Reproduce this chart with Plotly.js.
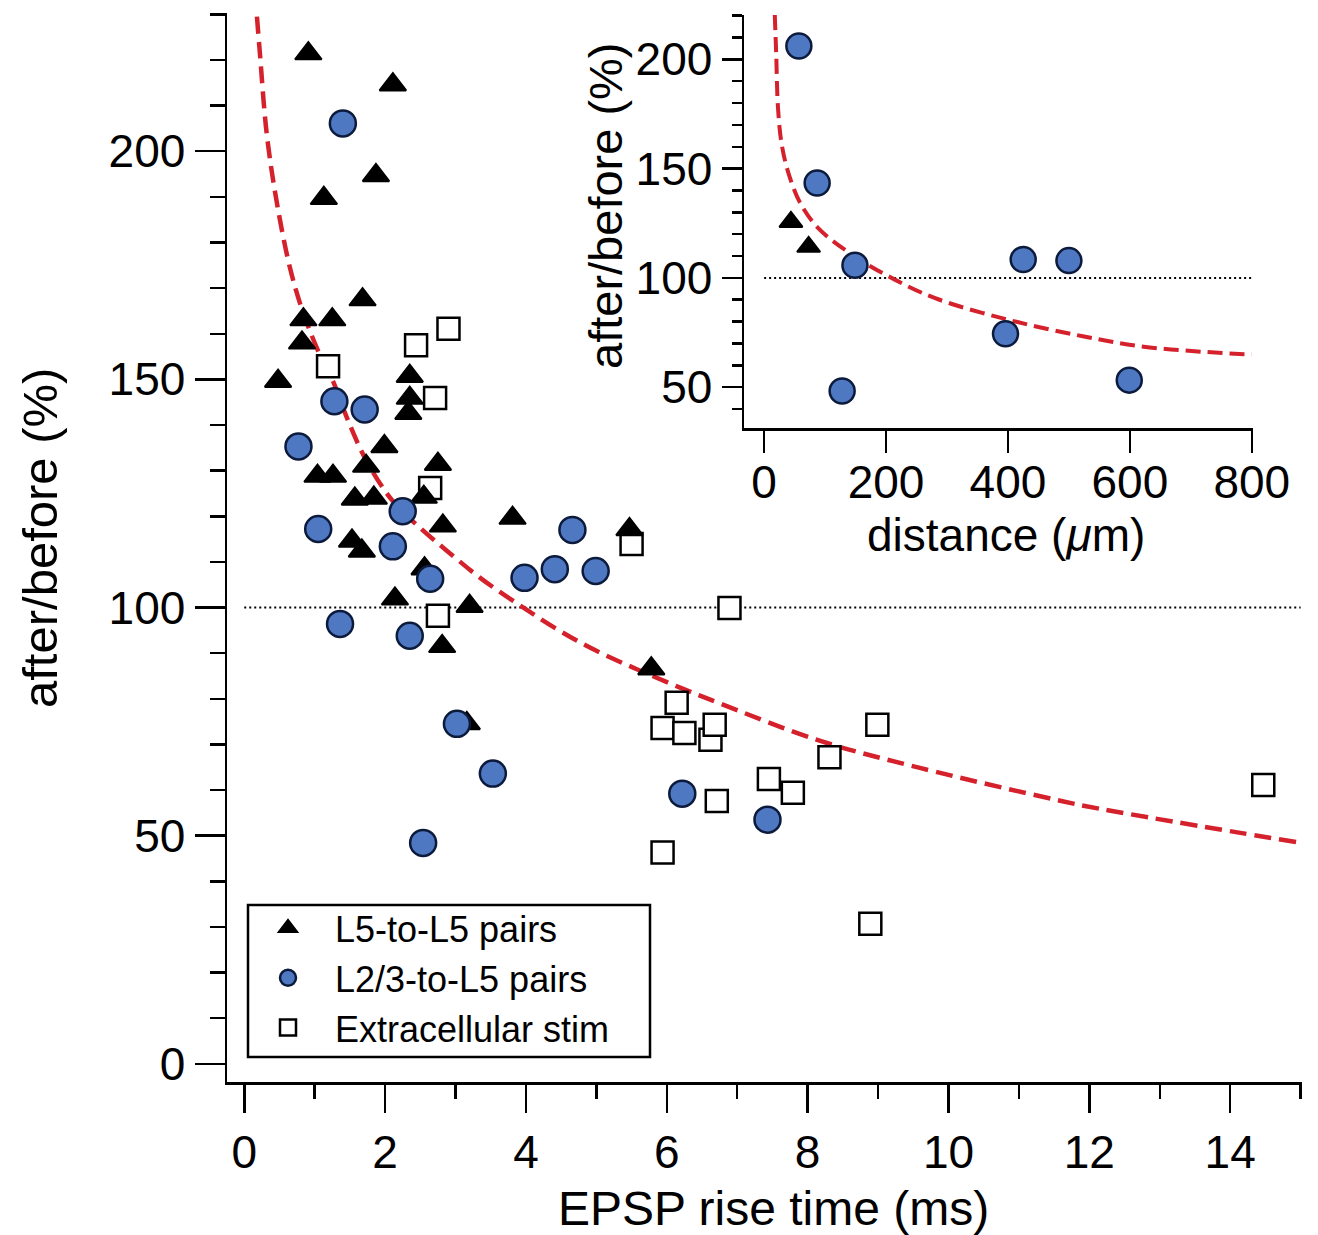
<!DOCTYPE html>
<html>
<head>
<meta charset="utf-8">
<script src="https://cdn.plot.ly/plotly-3.0.1.min.js"></script>
<style>html,body{margin:0;padding:0;background:#fff;}#chart{width:1318px;height:1235px;}</style>
</head>
<body>
<div id="chart"></div>
<script>
// ---- Main panel data: EPSP rise time (ms) vs after/before (%) ----
const l5X = [0.91, 2.11, 1.13, 1.87, 1.68, 0.84, 1.25, 0.82, 0.48, 2.35, 2.35, 2.33, 1.99, 1.73, 1.04, 1.26, 1.57, 1.84, 2.75, 2.82, 2.55, 1.53, 1.67, 2.56, 2.14, 3.20, 2.81, 3.81, 5.47, 5.78, 3.16];
const l5Y = [221.4, 214.6, 189.7, 194.7, 167.5, 163.1, 163.1, 158.0, 149.6, 150.7, 145.9, 142.6, 135.3, 131.0, 128.8, 128.8, 123.8, 124.0, 131.4, 117.9, 124.2, 114.6, 112.4, 108.5, 101.9, 100.3, 91.5, 119.6, 117.1, 86.6, 74.6];

const l23X = [1.40, 1.28, 1.71, 0.77, 1.05, 2.25, 2.11, 2.64, 1.36, 2.35, 3.98, 4.41, 4.66, 4.99, 3.02, 3.53, 2.54, 6.22, 7.43];
const l23Y = [206.1, 145.2, 143.4, 135.3, 117.2, 121.1, 113.4, 106.3, 96.4, 93.8, 106.5, 108.4, 117.0, 108.0, 74.5, 63.6, 48.4, 59.2, 53.5];

const extX = [1.19, 2.44, 2.90, 2.71, 2.64, 5.50, 2.75, 6.89, 6.14, 5.94, 6.25, 6.62, 6.68, 6.71, 7.45, 7.79, 8.31, 8.99, 5.94, 8.89, 14.47];
const extY = [152.9, 157.5, 161.1, 145.9, 126.2, 113.9, 98.2, 99.9, 79.1, 73.6, 72.5, 71.0, 74.3, 57.6, 62.4, 59.4, 67.2, 74.3, 46.3, 30.7, 61.1];

// fitted curve
const fitX = [0.18, 0.22, 0.32, 0.46, 0.65, 0.83, 1.07, 1.26, 1.46, 1.74, 2.11, 2.50, 2.88, 3.35, 3.92, 4.48, 5.00, 6.18, 6.75, 8.17, 9.58, 11.57, 12.14, 14.97];
const fitY = [229.5, 221.9, 203.7, 189.0, 174.4, 164.9, 155.5, 149.6, 141.5, 132.0, 123.3, 117.4, 112.4, 106.5, 100.4, 94.9, 90.5, 82.5, 79.0, 70.8, 64.9, 57.7, 55.9, 48.5];

const refX = [0, 15];
const refY = [100, 100];

// ---- Inset data: distance (um) vs after/before (%) ----
const inCircX = [57, 87, 149, 128, 425, 500, 396, 599];
const inCircY = [206.1, 143.4, 105.8, 48.2, 108.4, 107.9, 74.4, 53.2];
const inTriX = [44, 73];
const inTriY = [125.6, 114.2];
const inFitX = [17.5, 19.8, 22.8, 28.9, 40.3, 59.3, 89.6, 142.8, 203.6, 279.6, 401.1, 522.7, 629, 800];
const inFitY = [220.3, 202.7, 177.7, 161.0, 147.6, 134.2, 122.5, 110.9, 100.8, 90.8, 80.8, 73.3, 68.3, 64.9];
const inRefX = [0, 800];
const inRefY = [100, 100];

// ---- text ----
const legendNames = ['L5-to-L5 pairs', 'L2/3-to-L5 pairs', 'Extracellular stim'];
const mainXTitle = 'EPSP rise time (ms)';
const mainYTitle = 'after/before (%)';
const insetXTitle = 'distance (<i>μ</i>m)';
const insetYTitle = 'after/before (%)';

const RED = '#d4212b';
const BLUE = '#4f78c2';
const NAVY = '#0c1a3c';

const traces = [
  {x: refX, y: refY, mode: 'lines', line: {color: 'black', width: 2, dash: '2px,3px'}, showlegend: false, hoverinfo: 'skip'},
  {x: fitX, y: fitY, mode: 'lines', line: {color: RED, width: 4.5, dash: '17px,8px', shape: 'spline', smoothing: 1}, showlegend: false, hoverinfo: 'skip'},
  {x: extX, y: extY, mode: 'markers', name: legendNames[2], legendrank: 3,
   marker: {symbol: 'square', size: 22, color: 'white', line: {color: 'black', width: 2.5}}},
  {x: l5X, y: l5Y, mode: 'markers', name: legendNames[0], legendrank: 1,
   marker: {symbol: 'triangle-up', size: 23, color: 'black', line: {color: 'black', width: 2}}},
  {x: l23X, y: l23Y, mode: 'markers', name: legendNames[1], legendrank: 2,
   marker: {symbol: 'circle', size: 26, color: BLUE, line: {color: NAVY, width: 2.5}}},
  // inset
  {x: inRefX, y: inRefY, xaxis: 'x2', yaxis: 'y2', mode: 'lines', line: {color: 'black', width: 2, dash: '2px,3px'}, showlegend: false, hoverinfo: 'skip'},
  {x: inFitX, y: inFitY, xaxis: 'x2', yaxis: 'y2', mode: 'lines', line: {color: RED, width: 4, dash: '15px,7px', shape: 'spline', smoothing: 1}, showlegend: false, hoverinfo: 'skip'},
  {x: inTriX, y: inTriY, xaxis: 'x2', yaxis: 'y2', mode: 'markers', showlegend: false,
   marker: {symbol: 'triangle-up', size: 20, color: 'black', line: {color: 'black', width: 2}}},
  {x: inCircX, y: inCircY, xaxis: 'x2', yaxis: 'y2', mode: 'markers', showlegend: false,
   marker: {symbol: 'circle', size: 25, color: BLUE, line: {color: NAVY, width: 2.5}}}
];

const axBase = {
  showline: true, linecolor: 'black', linewidth: 2.5, ticks: 'outside', tickcolor: 'black', tickwidth: 2.5,
  showgrid: false, zeroline: false, tickfont: {size: 46, color: 'black'}, fixedrange: true
};

// paper-coordinate helpers (pixel -> paper) for the 1075x1069 plot area at (227,13)
const px = v => (v - 227) / 1075;
const py = v => (1082 - v) / 1069;

const layout = {
  width: 1318, height: 1235,
  margin: {l: 227, r: 16, t: 13, b: 153, pad: 0},
  paper_bgcolor: 'white', plot_bgcolor: 'white',
  font: {family: 'Liberation Sans, Arial, Helvetica, sans-serif', size: 46, color: 'black'},
  showlegend: true,
  legend: {x: px(241), y: py(898), xanchor: 'left', yanchor: 'top', bgcolor: 'rgba(0,0,0,0)', borderwidth: 0,
           font: {size: 36, color: 'black'}, traceorder: 'normal', itemsizing: 'trace', itemwidth: 84},
  shapes: [
    {type: 'rect', xref: 'paper', yref: 'paper', x0: px(248), x1: px(650), y0: py(1057), y1: py(905),
     line: {color: 'black', width: 2.5}, fillcolor: 'rgba(0,0,0,0)', layer: 'above'}
  ],
  xaxis: Object.assign({}, axBase, {domain: [0, 1], anchor: 'y', range: [-0.245, 15.02], tick0: 0, dtick: 2, ticklen: 28,
    minor: {ticks: 'outside', dtick: 1, ticklen: 14, tickwidth: 2.5, tickcolor: 'black', showgrid: false}}),
  yaxis: Object.assign({}, axBase, {domain: [0, 1], anchor: 'x', range: [-4, 230.3], tick0: 0, dtick: 50, ticklen: 30,
    minor: {ticks: 'outside', dtick: 10, ticklen: 15, tickwidth: 2.5, tickcolor: 'black', showgrid: false}}),
  xaxis2: Object.assign({}, axBase, {domain: [px(744), px(1253)], anchor: 'y2', range: [-33, 802], tick0: 0, dtick: 200, ticklen: 22,
    ticklabelstandoff: -10}),
  yaxis2: Object.assign({}, axBase, {domain: [py(428), py(15)], anchor: 'x2', range: [31.3, 220.3], tick0: 0, dtick: 50, ticklen: 20,
    minor: {ticks: 'outside', dtick: 10, ticklen: 10, tickwidth: 2.5, tickcolor: 'black', showgrid: false}}),
  annotations: [
    {text: mainXTitle, xref: 'paper', yref: 'paper', x: px(773), y: py(1208), xanchor: 'center', yanchor: 'middle', showarrow: false, font: {size: 48}},
    {text: mainYTitle, xref: 'paper', yref: 'paper', x: px(40), y: py(538), xanchor: 'center', yanchor: 'middle', textangle: -90, showarrow: false, font: {size: 49}},
    {text: insetXTitle, xref: 'paper', yref: 'paper', x: px(1006), y: py(535), xanchor: 'center', yanchor: 'middle', showarrow: false, font: {size: 46}},
    {text: insetYTitle, xref: 'paper', yref: 'paper', x: px(605), y: py(206), xanchor: 'center', yanchor: 'middle', textangle: -90, showarrow: false, font: {size: 47}}
  ]
};

Plotly.newPlot('chart', traces, layout, {staticPlot: true, displayModeBar: false});
</script>
</body>
</html>
